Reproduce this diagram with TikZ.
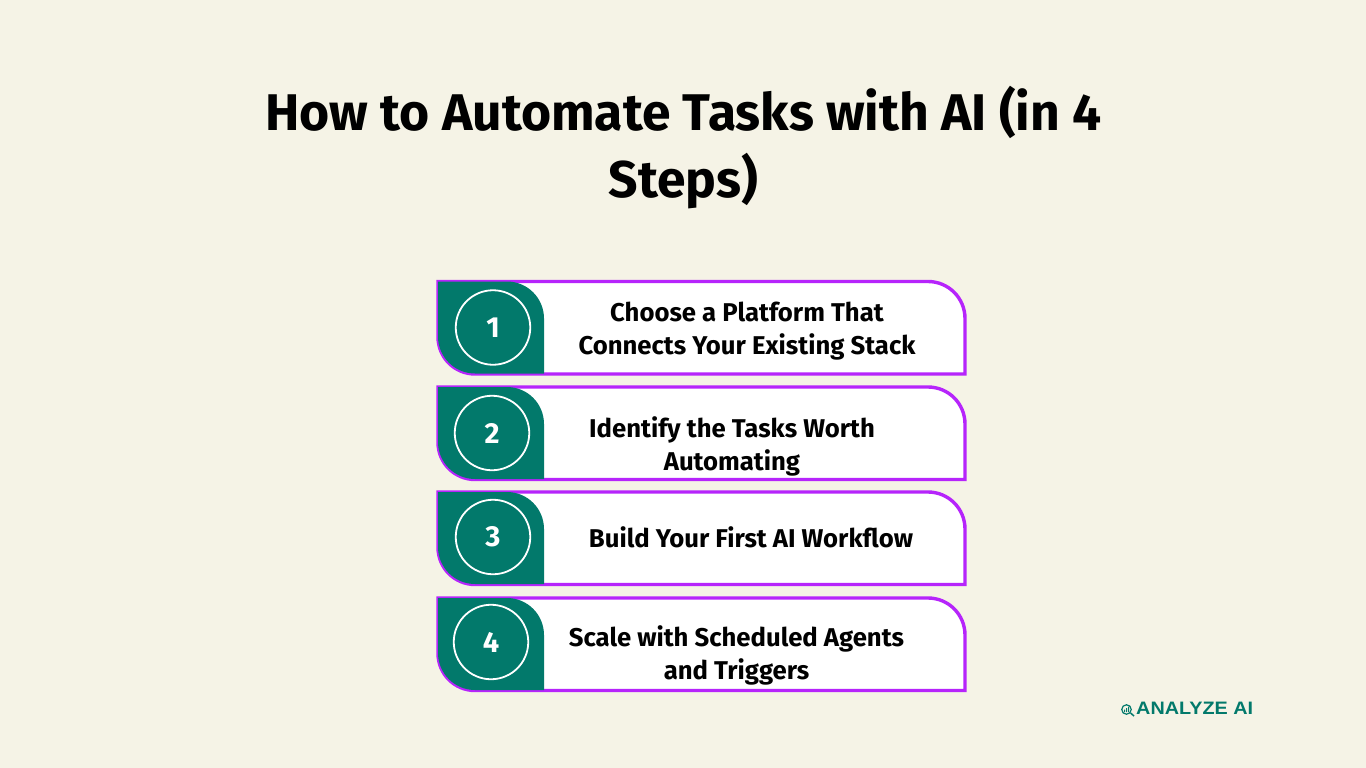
\documentclass[tikz,border=0pt]{standalone}
\usepackage{fontspec}
\setmainfont{Fira Sans}
\newfontfamily\logofont[FakeStretch=1.1]{Liberation Sans}
\definecolor{bgc}{HTML}{F5F3E6}
\definecolor{teal}{HTML}{02796B}
\definecolor{purp}{HTML}{B624FB}
\tikzset{
  x=1pt,y=-1pt,
  titletext/.style={font=\fontsize{51.6}{67}\selectfont\bfseries,align=center,text=black,inner sep=0pt},
  steptext/.style={font=\fontsize{25.7}{33}\selectfont\bfseries,align=center,text=black,inner sep=0pt},
  numring/.style={circle,draw=white,line width=1.8pt,minimum size=74.5pt,inner sep=0pt,text=white,font=\fontsize{29}{30}\selectfont\bfseries},
  cardline/.style={draw=purp,line width=3.4pt,fill=white},
  tabshape/.style={fill=teal},
  logotext/.style={font=\logofont\bfseries\fontsize{18}{22}\selectfont,text=teal,inner sep=0pt}
}
\newcommand{\stepcard}[1]{%
  \draw[cardline] (438,#1) -- (928,#1) arc[start angle=90,end angle=0,x radius=37,y radius=-37] -- ++(0,55.5) -- (475,#1+92.5) arc[start angle=270,end angle=180,x radius=37,y radius=-37] -- cycle;
  \fill[tabshape] (438,#1) -- (507,#1) arc[start angle=90,end angle=0,x radius=37,y radius=-37] -- (544,#1+92) -- (475,#1+92) arc[start angle=270,end angle=180,x radius=37,y radius=-37] -- cycle;
}
\begin{document}
\begin{tikzpicture}
\useasboundingbox[fill=bgc] (0,0) rectangle (1366,768);
\node[titletext] (title) at (683.5,148) {How to Automate Tasks with AI (in 4\\Steps)};
\stepcard{281.5}
\stepcard{387}
\stepcard{492}
\stepcard{598}
\node[numring] (n1) at (493,327.5) {1};
\node[numring] (n2) at (492,433) {2};
\node[numring] (n3) at (493,537) {3};
\node[numring] (n4) at (491,642) {4};
\node[steptext] (t1) at (747,331.5) {Choose a Platform That\\Connects Your Existing Stack};
\node[steptext] (t2) at (732,446) {Identify the Tasks Worth\\Automating};
\node[steptext] (t3) at (751,537) {Build Your First AI Workflow};
\node[steptext] (t4) at (736.5,655) {Scale with Scheduled Agents\\and Triggers};
\node[logotext,anchor=west] (logo) at (1136,708.5) {ANALYZE AI};
\node[circle,draw=teal,line width=1.2pt,minimum size=9.5pt,inner sep=0pt] (lens) at (1126.5,709.5) {};
\coordinate (lenstail) at (1134,716);
\draw[teal,line width=1.5pt] (lens) -- (lenstail);
\fill[teal] (1124,709.5) rectangle (1125.2,712) (1126,708) rectangle (1127.2,712) (1128,706.5) rectangle (1129.2,712);
\end{tikzpicture}
\end{document}
